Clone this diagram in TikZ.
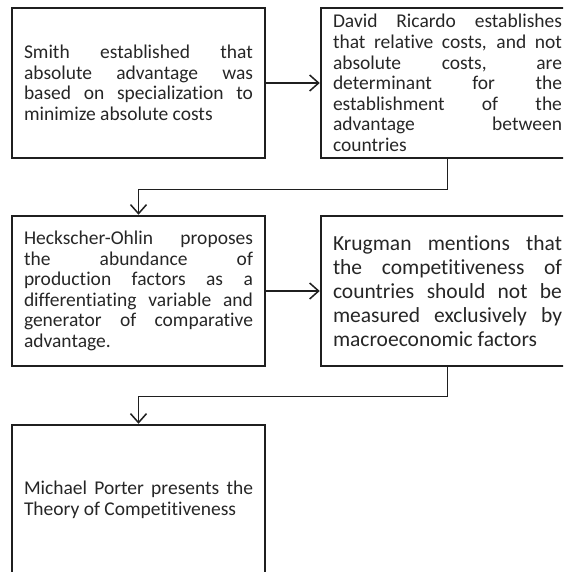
\documentclass[tikz,border=0pt]{standalone}
\usepackage{fontspec}
\setmainfont[Ligatures=NoCommon]{Carlito}
\usetikzlibrary{arrows.meta}
\hyphenpenalty=10000
\exhyphenpenalty=10000
\tikzset{
  stage/.style={draw=black!88, line width=2.5pt, text width=229pt, inner xsep=12pt,
    inner ysep=3pt, minimum height=150pt, align=justify, text=black!85,
    font=\fontsize{19.5}{20.6}\selectfont},
  big/.style={font=\fontsize{21.5}{24}\selectfont},
  link/.style={draw=black!88, line width=1.5pt,
    -{Straight Barb[length=9pt,width=16pt,line width=1.5pt]}}
}
\begin{document}
\begin{tikzpicture}[x=1pt,y=-1pt]
  \path[use as bounding box, clip] (0,0) rectangle (563,572);
  % first row
  \node[stage] (smith) at (138.5,83) {Smith established that\linebreak absolute advantage was\linebreak based on specialization to\linebreak minimize absolute costs};
  \node[stage] (ricardo) at (447.5,83) {David Ricardo establishes\linebreak that relative costs, and not\linebreak absolute costs, are\linebreak determinant for the\linebreak establishment of the\linebreak advantage between\linebreak countries};
  % second row
  \node[stage] (heckscher) at (138.5,291) {Heckscher-Ohlin proposes\linebreak the abundance of\linebreak production factors as a\linebreak differentiating variable and\linebreak generator of comparative\linebreak advantage.};
  \node[stage, big] (krugman) at (447.5,291) {Krugman mentions that\linebreak the competitiveness of\linebreak countries should not be\linebreak measured exclusively by\linebreak macroeconomic factors};
  % last row
  \node[stage] (porter) at (138.5,500) {Michael Porter presents the\linebreak Theory of Competitiveness};
  \draw[link] (smith) -- (ricardo);
  \draw[link] (ricardo.south) -- ++(0,30) -| (heckscher.north);
  \draw[link] (heckscher) -- (krugman);
  \draw[link] (krugman.south) -- ++(0,29) -| (porter.north);
\end{tikzpicture}
\end{document}
